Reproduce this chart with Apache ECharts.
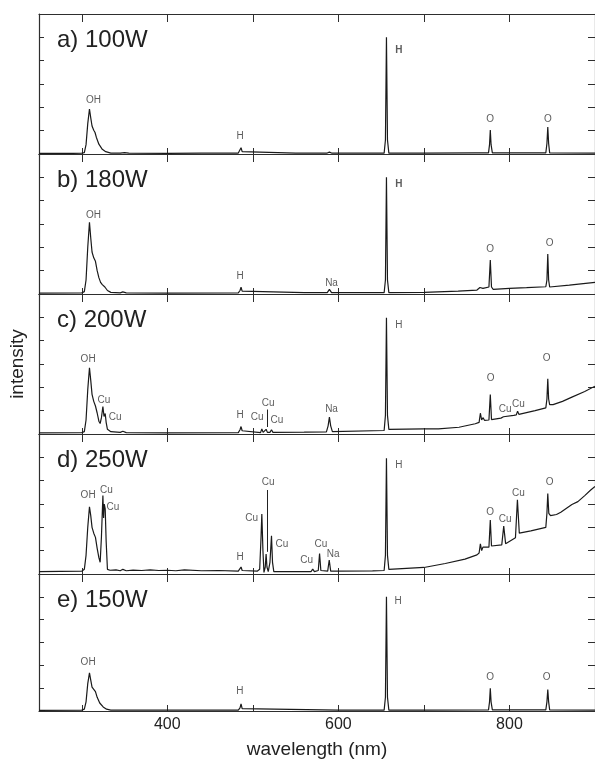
<!DOCTYPE html>
<html>
<head>
<meta charset="utf-8">
<script src="https://cdn.jsdelivr.net/npm/echarts@6/dist/echarts.min.js"></script>
<style>
html, body { margin: 0; padding: 0; background: #fff; }
#chart { width: 595px; height: 760px; }
</style>
</head>
<body>
<div id="chart"></div>
<script>
// wavelength axis
const xTicks = [300, 400, 500, 600, 700, 800, 900]
const xLabels = [400, 600, 800]
const panelTitles = ['a) 100W', 'b) 180W', 'c) 200W', 'd) 250W', 'e) 150W']

// spectra [wavelength (nm), intensity]
const specA = [[250,0.03],[290,0.03],[300,0.04],[303,0.06],[305,0.4],[307,1.3],[309,1.93],[310.5,1.55],[312,1.2],[314,1.02],[315.5,0.92],[317,0.72],[320,0.42],[324,0.2],[328,0.1],[334,0.04],[345,0.04],[350,0.06],[355,0.04],[400,0.03],[440,0.04],[483,0.04],[485,0.12],[486.2,0.27],[487.5,0.1],[489,0.04],[550,0.04],[587,0.04],[589.5,0.08],[592,0.04],[653.5,0.04],[655,0.6],[656.2,5.0],[657.4,0.6],[659,0.04],[700,0.04],[760,0.05],[775.5,0.05],[776.7,0.4],[777.6,1.03],[778.5,0.4],[780,0.05],[842.5,0.05],[843.8,0.45],[844.8,1.16],[845.8,0.45],[847,0.05],[900,0.04]]

const specB = [[250,0.04],[300,0.05],[303,0.1],[305,0.6],[307,2.0],[309,3.07],[310.5,2.4],[312,1.8],[314,1.55],[316,1.4],[318,1.0],[320,0.7],[322,0.5],[324,0.4],[325.5,0.42],[327,0.3],[330,0.15],[334,0.07],[345,0.05],[348,0.09],[352,0.05],[400,0.04],[483,0.05],[485,0.15],[486.2,0.29],[487.5,0.12],[489,0.05],[560,0.06],[587,0.06],[588.5,0.12],[589.5,0.2],[590.5,0.12],[592,0.06],[653.5,0.06],[655,0.6],[656.2,5.0],[657.4,0.6],[659,0.06],[700,0.07],[740,0.12],[762,0.17],[764,0.2],[765.5,0.28],[767,0.22],[769,0.24],[771,0.2],[776,0.3],[777.6,1.46],[779,0.3],[781,0.2],[800,0.24],[820,0.27],[842.5,0.31],[843.8,0.6],[844.8,1.71],[845.8,0.6],[847,0.3],[870,0.38],[900,0.5]]

const specC = [[250,0.05],[300,0.06],[303,0.1],[305,0.6],[307,1.9],[309,2.84],[310.5,2.3],[312,1.7],[314,1.4],[316,1.2],[318,0.9],[320,0.55],[321.5,0.45],[323,0.7],[324.7,1.18],[326,0.75],[327.4,0.88],[328.5,0.5],[330,0.2],[334,0.1],[345,0.07],[348,0.12],[352,0.06],[400,0.05],[483,0.06],[485,0.18],[486.2,0.32],[487.5,0.14],[489,0.06],[509,0.06],[510.5,0.22],[512,0.07],[514,0.07],[515.5,0.2],[517,0.07],[520,0.07],[521.8,0.18],[523.5,0.07],[560,0.08],[586,0.09],[588,0.35],[589.5,0.72],[591,0.35],[593,0.1],[653.5,0.15],[655,0.8],[656.2,4.98],[657.4,0.8],[659,0.2],[700,0.22],[717,0.22],[741,0.29],[760,0.44],[764.5,0.5],[766,0.89],[767.5,0.6],[769,0.7],[771,0.58],[776,0.6],[777.6,1.69],[779,0.62],[781,0.61],[790,0.68],[793,0.74],[795,0.7],[805,0.8],[808,0.82],[809.5,0.98],[811,0.84],[830,1.0],[842.5,1.12],[843.8,1.5],[844.8,2.37],[845.8,1.5],[847,1.26],[851,1.26],[862,1.4],[873,1.58],[888,1.82],[900,2.05]]

const specD = [[250,0.1],[300,0.12],[303,0.2],[305,0.8],[307,2.0],[309,2.88],[310.5,2.5],[312,2.0],[314,1.75],[316,1.57],[318,1.1],[320,0.7],[321.5,0.5],[323,1.6],[324.7,3.36],[325.5,2.4],[326.3,3.0],[327.4,2.79],[328.5,1.4],[330,0.2],[333,0.16],[340,0.18],[345,0.14],[348,0.2],[352,0.14],[360,0.17],[370,0.15],[380,0.18],[390,0.15],[400,0.16],[410,0.14],[420,0.18],[440,0.14],[460,0.15],[483,0.12],[485,0.2],[486.2,0.3],[487.5,0.15],[489,0.12],[505,0.12],[508,0.2],[509.5,1.5],[510.5,2.57],[511.8,1.0],[513,0.07],[514.5,0.3],[515.5,0.86],[516.5,0.3],[518,0.1],[520,0.5],[521.8,1.64],[523,0.5],[524.5,0.1],[540,0.1],[568,0.1],[570,0.21],[572,0.1],[576.5,0.15],[578,0.88],[579.5,0.15],[587.5,0.12],[589.3,0.6],[591,0.12],[600,0.12],[640,0.13],[653.5,0.15],[655,0.8],[656.2,4.96],[657.4,0.8],[659,0.2],[700,0.28],[725,0.45],[748,0.64],[762,0.82],[764.5,0.9],[766,1.29],[767.5,1.0],[769,1.15],[771,1.11],[776,1.15],[777.6,2.31],[779,1.2],[781,1.17],[791,1.25],[793.3,2.05],[795.5,1.3],[797,1.32],[807,1.55],[809.3,3.18],[811.5,1.75],[813,1.71],[825,1.85],[842.5,2.0],[843.8,2.6],[844.8,3.45],[846,2.6],[848,2.5],[855,2.55],[860,2.65],[873,2.98],[880,3.1],[888,3.36],[895,3.6],[900,3.75]]

const specE = [[250,0.03],[300,0.04],[303,0.08],[305,0.4],[307,1.2],[309,1.67],[310.5,1.35],[312,1.05],[314,0.95],[316,0.85],[318,0.6],[321,0.35],[325,0.18],[329,0.08],[334,0.04],[400,0.04],[483,0.04],[485,0.14],[486.2,0.31],[487.5,0.1],[489,0.04],[600,0.04],[653.5,0.04],[655,0.6],[656.2,5.0],[657.4,0.6],[659,0.04],[695,0.04],[697,0.08],[699,0.04],[775.5,0.05],[776.7,0.4],[777.6,0.99],[778.5,0.4],[780,0.05],[842.5,0.05],[843.8,0.4],[844.8,0.94],[845.8,0.4],[847,0.05],[900,0.04]]

// line annotations [wavelength, intensity, text]
const labelsA = [[313.6,2.31,'OH'],[485,0.74,'H'],[670.6,4.46,'H'],[777.5,1.49,'O'],[845,1.5,'O']]
const labelsB = [[313.6,3.36,'OH'],[485,0.74,'H'],[592,0.48,'Na'],[670.6,4.71,'H'],[777.5,1.93,'O'],[847,2.16,'O']]
const labelsC = [[307.4,3.22,'OH'],[326,1.44,'Cu'],[339,0.72,'Cu'],[485,0.79,'H'],[505,0.72,'Cu'],[517.8,1.32,'Cu'],[528,0.58,'Cu'],[592,1.08,'Na'],[670.6,4.68,'H'],[778,2.39,'O'],[795,1.08,'Cu'],[810.5,1.29,'Cu'],[843.4,3.25,'O']]
const labelsD = [[307.4,3.36,'OH'],[328.7,3.57,'Cu'],[336.4,2.85,'Cu'],[485,0.71,'H'],[498.5,2.38,'Cu'],[517.8,3.93,'Cu'],[534,1.29,'Cu'],[563,0.57,'Cu'],[579.5,1.29,'Cu'],[594,0.86,'Na'],[670.6,4.67,'H'],[777.5,2.64,'O'],[795,2.36,'Cu'],[810.5,3.45,'Cu'],[847,3.93,'O']]
const labelsE = [[307.4,2.14,'OH'],[484.9,0.86,'H'],[669.8,4.81,'H'],[777.4,1.46,'O'],[843.6,1.46,'O']]

// arrows [wavelength, from, to]
const arrowsC = [[516.7,1.05,0.3]]
const arrowsD = [[516.7,3.6,0.95]]

const specs = [specA, specB, specC, specD, specE]
const labelSets = [labelsA, labelsB, labelsC, labelsD, labelsE]
const arrowSets = [[], [], arrowsC, arrowsD, []]

const FONT = '"Liberation Sans", Arial, Helvetica, sans-serif'
const PANEL_TOP = 14
const PANEL_H = 140
const AXIS_COLOR = '#2e2e2e'

const chart = echarts.init(document.getElementById('chart'))

const grids = [], xAxes = [], yAxes = [], series = [], titles = []

specs.forEach((spec, i) => {
  const last = i === specs.length - 1
  const top = PANEL_TOP + PANEL_H * i
  grids.push({ left: 39, right: -3, top: top, height: PANEL_H })

  // bottom axis
  xAxes.push({
    gridIndex: i, type: 'value', min: 250, max: 900, position: 'bottom',
    axisLine: { show: true, onZero: false, lineStyle: { color: AXIS_COLOR, width: 1.2 } },
    axisTick: { show: true, inside: true, length: 6, customValues: xTicks, lineStyle: { color: AXIS_COLOR } },
    axisLabel: last
      ? { show: true, customValues: xLabels, color: '#222', fontSize: 16, fontFamily: FONT, margin: 6 }
      : { show: false },
    splitLine: { show: false },
    name: last ? 'wavelength (nm)' : '',
    nameLocation: 'middle',
    nameGap: 29,
    nameTextStyle: { color: '#222', fontSize: 19, fontFamily: FONT }
  })
  // top axis
  xAxes.push({
    gridIndex: i, type: 'value', min: 250, max: 900, position: 'top',
    axisLine: { show: true, onZero: false, lineStyle: { color: AXIS_COLOR, width: 1.2 } },
    axisTick: { show: true, inside: true, length: 8, customValues: xTicks, lineStyle: { color: AXIS_COLOR } },
    axisLabel: { show: false },
    splitLine: { show: false }
  })
  yAxes.push({
    gridIndex: i, type: 'value', min: 0, max: 6, interval: 1, position: 'left',
    axisLine: { show: true, onZero: false, lineStyle: { color: AXIS_COLOR, width: 1.2 } },
    axisTick: { show: true, inside: true, length: 5, lineStyle: { color: AXIS_COLOR } },
    axisLabel: { show: false },
    splitLine: { show: false },
    name: i === 2 ? 'intensity' : '',
    nameLocation: 'middle',
    nameRotate: 90,
    nameGap: 12,
    nameTextStyle: { color: '#222', fontSize: 19, fontFamily: FONT }
  })
  yAxes.push({
    gridIndex: i, type: 'value', min: 0, max: 6, interval: 1, position: 'right',
    axisLine: { show: true, onZero: false, lineStyle: { color: AXIS_COLOR, width: 1.2 } },
    axisTick: { show: true, inside: true, length: 7, lineStyle: { color: AXIS_COLOR } },
    axisLabel: { show: false },
    splitLine: { show: false }
  })

  series.push({
    type: 'line', xAxisIndex: 2 * i, yAxisIndex: 2 * i,
    data: spec, showSymbol: false, symbol: 'none', silent: true,
    lineStyle: { color: '#1a1a1a', width: 1.2 }
  })

  series.push({
    type: 'scatter', xAxisIndex: 2 * i, yAxisIndex: 2 * i,
    symbolSize: 1, silent: true,
    itemStyle: { color: 'transparent' },
    data: labelSets[i].map(l => ({
      value: [l[0], l[1]],
      name: l[2],
      label: { fontWeight: (i < 2 && l[2] === 'H' && l[0] > 600) ? 'bold' : 'normal' }
    })),
    label: {
      show: true, position: 'inside', formatter: '{b}',
      fontSize: 10, color: '#333', fontFamily: FONT
    },
    markLine: {
      silent: true,
      symbol: ['none', 'arrow'],
      symbolSize: [0, 6],
      label: { show: false },
      lineStyle: { color: '#222', width: 1, type: 'solid' },
      data: arrowSets[i].map(a => [{ coord: [a[0], a[1]] }, { coord: [a[0], a[2]] }])
    }
  })

  titles.push({
    text: panelTitles[i], left: 57, top: top + 14, padding: 0,
    textStyle: { fontSize: 24, fontWeight: 'normal', color: '#222', fontFamily: FONT }
  })
})

chart.setOption({
  animation: false,
  backgroundColor: '#fff',
  title: titles,
  grid: grids,
  xAxis: xAxes,
  yAxis: yAxes,
  series: series
})
</script>
</body>
</html>
